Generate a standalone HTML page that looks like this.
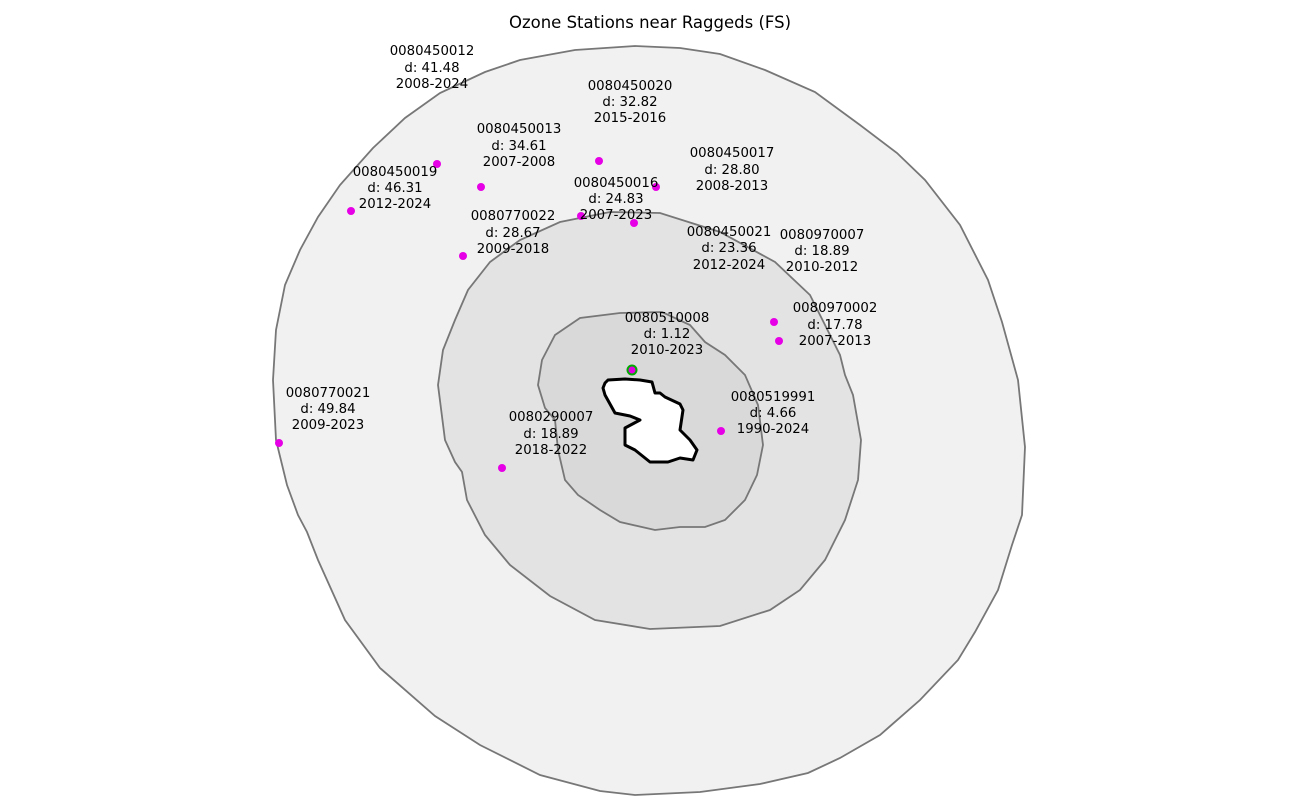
<!DOCTYPE html>
<html><head><meta charset="utf-8"><style>
html,body{margin:0;padding:0;background:#fff;}
svg{display:block;font-family:"DejaVu Sans","Liberation Sans",sans-serif;}
text{font-size:13.3px;fill:#000;text-anchor:middle;}
</style></head><body>
<svg width="1300" height="802" viewBox="0 0 1300 802">
<text x="650" y="28" style="font-size:16.5px">Ozone Stations near Raggeds (FS)</text>
<path d="M635,46 L680,48 L720,54 L765,70 L815,92 L860,125 L897,153 L925,180 L960,225 L988,280 L1002,322 L1018,380 L1025,447 L1022,515 L1012,545 L998,590 L975,632 L958,660 L920,700 L880,735 L840,758 L808,773 L760,784 L700,792 L635,795 L600,791 L540,775 L480,745 L435,716 L380,668 L345,620 L318,560 L307,532 L298,515 L287,485 L276,440 L273,380 L276,330 L285,285 L300,250 L318,217 L340,185 L373,148 L405,118 L440,93 L485,72 L520,60 L575,50 Z" fill="#f1f1f1" stroke="#777" stroke-width="1.8"/>
<path d="M610,212 L660,213 L720,232 L775,262 L810,295 L840,355 L845,375 L853,395 L861,440 L858,480 L845,520 L825,560 L800,590 L770,610 L720,626 L650,629 L595,620 L550,596 L510,565 L485,535 L467,500 L462,472 L455,462 L445,440 L438,385 L443,350 L455,320 L468,290 L490,262 L520,240 L560,222 Z" fill="#e3e3e3" stroke="#777" stroke-width="1.8"/>
<path d="M620,313 L662,312 L690,325 L705,342 L725,355 L745,375 L758,405 L763,445 L757,475 L745,500 L725,520 L705,527 L680,527 L655,530 L620,522 L600,510 L578,495 L565,480 L558,450 L555,420 L545,408 L538,385 L542,360 L555,335 L580,318 Z" fill="#d9d9d9" stroke="#777" stroke-width="1.8"/>
<path d="M605,383 L608,380 L625,379 L640,380 L652,382 L655,393 L660,393 L665,397 L680,404 L683,410 L680,430 L690,440 L697,450 L693,460 L680,458 L668,462 L650,462 L635,450 L625,445 L625,428 L640,420 L630,416 L615,413 L605,395 L603,388 Z" fill="#fff" stroke="#000" stroke-width="3" stroke-linejoin="round"/>
<circle cx="632" cy="370" r="4.5" fill="#e000e0" stroke="#0a0" stroke-width="2"/>
<g fill="#e600e6">
<circle cx="437" cy="164" r="4"/><circle cx="599" cy="161" r="4"/><circle cx="481" cy="187" r="4"/>
<circle cx="656" cy="187" r="4"/><circle cx="351" cy="211" r="4"/><circle cx="581" cy="216" r="4"/>
<circle cx="634" cy="223" r="4"/><circle cx="463" cy="256" r="4"/><circle cx="774" cy="322" r="4"/>
<circle cx="779" cy="341" r="4"/><circle cx="721" cy="431" r="4"/><circle cx="502" cy="468" r="4"/>
<circle cx="279" cy="443" r="4"/>
</g>
<g>
<text x="432" y="55">0080450012</text><text x="432" y="72">d: 41.48</text><text x="432" y="88">2008-2024</text>
<text x="630" y="90">0080450020</text><text x="630" y="106">d: 32.82</text><text x="630" y="122">2015-2016</text>
<text x="519" y="133">0080450013</text><text x="519" y="150">d: 34.61</text><text x="519" y="166">2007-2008</text>
<text x="732" y="157">0080450017</text><text x="732" y="174">d: 28.80</text><text x="732" y="190">2008-2013</text>
<text x="395" y="176">0080450019</text><text x="395" y="192">d: 46.31</text><text x="395" y="208">2012-2024</text>
<text x="616" y="187">0080450016</text><text x="616" y="203">d: 24.83</text><text x="616" y="219">2007-2023</text>
<text x="513" y="220">0080770022</text><text x="513" y="237">d: 28.67</text><text x="513" y="253">2009-2018</text>
<text x="729" y="236">0080450021</text><text x="729" y="252">d: 23.36</text><text x="729" y="269">2012-2024</text>
<text x="822" y="239">0080970007</text><text x="822" y="255">d: 18.89</text><text x="822" y="271">2010-2012</text>
<text x="835" y="312">0080970002</text><text x="835" y="329">d: 17.78</text><text x="835" y="345">2007-2013</text>
<text x="667" y="322">0080510008</text><text x="667" y="338">d: 1.12</text><text x="667" y="354">2010-2023</text>
<text x="773" y="401">0080519991</text><text x="773" y="417">d: 4.66</text><text x="773" y="433">1990-2024</text>
<text x="328" y="397">0080770021</text><text x="328" y="413">d: 49.84</text><text x="328" y="429">2009-2023</text>
<text x="551" y="421">0080290007</text><text x="551" y="438">d: 18.89</text><text x="551" y="454">2018-2022</text>
</g>
</svg>
</body></html>
